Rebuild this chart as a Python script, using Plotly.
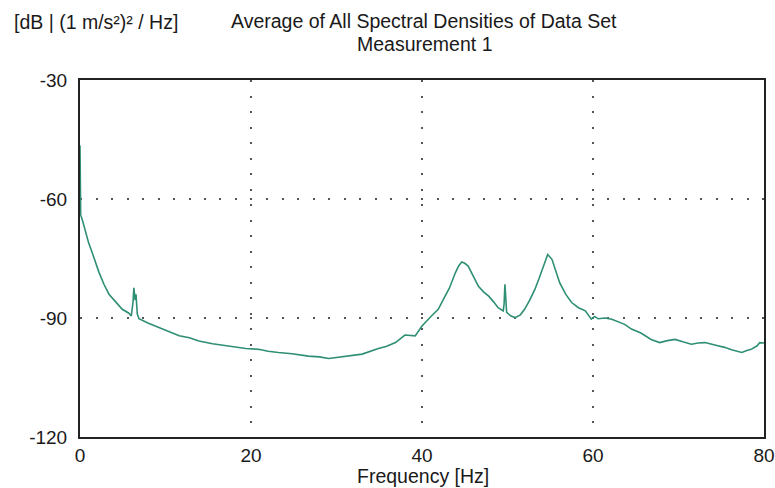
import plotly.graph_objects as go

freq = [0.0, 0.08, 0.3, 0.67, 1.0, 1.44, 1.8, 2.22, 2.8, 3.39, 4.2, 4.94, 5.72, 6.0, 6.2, 6.3,
        6.45, 6.55, 6.7, 6.9, 8.0, 9.2, 10.4, 11.6, 12.8, 13.9, 15.5, 17.0, 18.2, 19.4, 20.9,
        22.0, 23.2, 24.8, 26.7, 28.0, 29.1, 30.2, 31.4, 33.0, 34.9, 35.8, 36.9, 38.0, 39.2,
        40.0, 41.1, 41.9, 42.7, 43.2, 43.9, 44.3, 44.65, 45.0, 45.4, 46.0, 46.6, 47.2, 47.8,
        48.4, 48.9, 49.5, 49.6, 49.7, 49.8, 49.9, 50.4, 50.9, 51.5, 52.0, 52.6, 53.2, 53.7,
        54.2, 54.7, 55.2, 55.6, 56.1, 56.8, 57.5, 58.3, 59.1, 59.8, 60.2, 60.6, 61.4, 62.2,
        62.6, 63.7, 64.5, 65.6, 66.8, 67.8, 68.7, 69.6, 70.5, 71.5, 72.3, 73.1, 74.6, 75.4,
        76.2, 77.4, 78.0, 78.5, 79.2, 79.5, 80.0]
psd_db = [-46.5, -64.0, -65.5, -68.5, -71.0, -73.6, -76.0, -78.5, -81.5, -84.0, -86.0, -87.8,
          -88.8, -89.5, -86.0, -82.4, -85.5, -84.0, -89.0, -90.2, -91.3, -92.4, -93.6, -94.5,
          -95.0, -95.8, -96.5, -97.0, -97.3, -97.7, -97.9, -98.4, -98.7, -99.0, -99.6, -99.8,
          -100.2, -99.9, -99.7, -99.1, -97.7, -97.2, -96.2, -94.3, -94.5, -92.0, -89.5, -87.8,
          -84.5, -82.5, -78.6, -76.8, -75.9, -76.2, -76.9, -79.5, -82.0, -83.4, -84.5, -86.0,
          -87.4, -88.2, -86.5, -81.5, -85.0, -88.6, -89.5, -89.9, -89.2, -87.8, -85.5, -82.8,
          -80.0, -76.9, -74.0, -75.2, -78.0, -81.1, -84.0, -86.1, -87.4, -88.2, -90.3, -89.6,
          -90.2, -90.0, -90.3, -90.7, -91.6, -92.8, -93.8, -95.4, -96.2, -95.7, -95.4, -96.0,
          -96.6, -96.3, -96.2, -97.0, -97.4, -98.0, -98.7, -98.2, -97.9, -97.0, -96.2, -96.3]

x_ticks = [0, 20, 40, 60, 80]
x_ticklabels = ["0", "20", "40", "60", "80"]
y_ticks = [-120, -90, -60, -30]
y_ticklabels = ["-120", "-90", "-60", "-30"]

title_line1 = "Average of All Spectral Densities of Data Set"
title_line2 = "Measurement 1"
y_unit = "[dB | (1 m/s²)² / Hz]"
x_title = "Frequency [Hz]"

FONT = "Liberation Sans"
W, H = 775, 488
ML, MR, MT, MB = 80, 11, 80, 51
PW, PH = W - ML - MR, H - MT - MB


def px_x(x):
    return (x - ML) / PW


def px_y(y_from_top):
    return (H - MB - y_from_top) / PH


fig = go.Figure()
fig.add_trace(go.Scatter(x=freq, y=psd_db, mode="lines",
                         line=dict(color="#2e8f74", width=1.6), showlegend=False))

txt = dict(family=FONT, size=19.5, color="#1a1a1a")
fig.update_layout(
    width=W, height=H,
    margin=dict(l=ML, r=MR, t=MT, b=MB, autoexpand=False),
    paper_bgcolor="white", plot_bgcolor="white",
    font=dict(family=FONT, size=19, color="#1a1a1a"),
    annotations=[
        dict(text=y_unit, x=px_x(12), y=px_y(22), xref="paper", yref="paper",
             showarrow=False, xanchor="left", yanchor="middle", font=txt),
        dict(text=title_line1, x=px_x(424), y=px_y(21), xref="paper", yref="paper",
             showarrow=False, xanchor="center", yanchor="middle", font=txt),
        dict(text=title_line2, x=px_x(424), y=px_y(44), xref="paper", yref="paper",
             showarrow=False, xanchor="center", yanchor="middle", font=txt),
        dict(text=x_title, x=px_x(423), y=px_y(476), xref="paper", yref="paper",
             showarrow=False, xanchor="center", yanchor="middle", font=txt),
    ],
)

fig.update_xaxes(range=[0, 80], tickvals=x_ticks, ticktext=x_ticklabels, ticks="",
                 showline=True, mirror=True, automargin=False,
                 linecolor="#222", linewidth=2, showgrid=True, gridcolor="#555",
                 gridwidth=2, griddash="2px,13.5px", zeroline=False,
                 ticklabelstandoff=0, ticklabeloverflow="allow", tickfont=dict(size=19))
fig.update_yaxes(range=[-120, -30], tickvals=y_ticks, ticktext=y_ticklabels, ticks="",
                 showline=True, mirror=True, automargin=False,
                 linecolor="#222", linewidth=2, showgrid=True, gridcolor="#555",
                 gridwidth=2, griddash="2px,13.5px", zeroline=False,
                 ticklabelstandoff=7, tickfont=dict(size=19))

fig.write_html("out.html", config={"displayModeBar": False},
               post_script="document.body.style.margin='0';document.body.style.overflow='hidden';")
